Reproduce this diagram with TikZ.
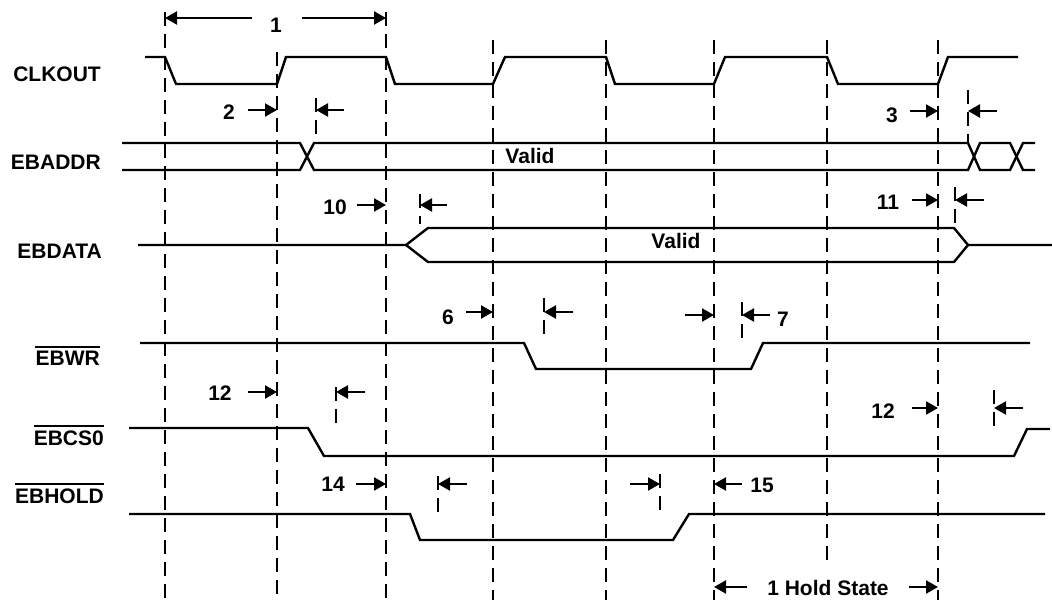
\documentclass[tikz,border=0pt]{standalone}
\usepackage{fontspec}
\setmainfont{Liberation Sans}
\usetikzlibrary{arrows.meta}
\begin{document}
\begin{tikzpicture}[x=1pt,y=-1pt,
  sig/.style={line width=2.4pt, line join=miter},
  grid/.style={line width=2pt, dash pattern=on 14pt off 8pt},
  tickline/.style={line width=2pt, dash pattern=on 14pt off 8pt},
  dim/.style={line width=2.2pt, -{Triangle[length=12pt,width=13pt]}},
  lbl/.style={font=\fontsize{21}{24}\selectfont\bfseries, inner sep=0pt},
  sname/.style={lbl, anchor=east},
]
\useasboundingbox (0,0) rectangle (1052,609);

% vertical reference lines
\foreach \x/\a/\b in {165/12/600, 277/52/600, 386/12/600, 493/40/600, 606/40/600, 714/40/600, 827/40/563, 938/40/600}
  \draw[grid] (\x,\a) -- (\x,\b);

% signal names
\node[sname] (nclk) at (101,74) {CLKOUT};
\node[sname] (naddr) at (101,162) {EBADDR};
\node[sname] (ndata) at (102,251) {EBDATA};
\node[sname] (nwr) at (100,358) {EBWR};
\node[sname] (ncs) at (104,438) {EBCS0};
\node[sname] (nhold) at (104,496) {EBHOLD};
\foreach \n in {nwr,ncs,nhold}
  \draw[line width=2pt] ([yshift=4pt]\n.north west) -- ([yshift=4pt]\n.north east);

% CLKOUT
\draw[sig] (145,57) -- (165,57) -- (176,84) -- (277,84) -- (286,57) -- (386,57) -- (395,84) -- (493,84) -- (505,57) -- (606,57) -- (615,84) -- (714,84) -- (725,57) -- (827,57) -- (838,84) -- (938,84) -- (948,57) -- (1018,57);

% EBADDR
\draw[sig] (122,143) -- (300,143) -- (314,170) -- (968,170) -- (980,143) -- (1010,143) -- (1023,170) -- (1035,170);
\draw[sig] (122,170) -- (300,170) -- (314,143) -- (968,143) -- (980,170) -- (1010,170) -- (1023,143) -- (1035,143);
\node[lbl] (vaddr) at (530,156) {Valid};

% EBDATA
\draw[sig] (138,245) -- (406,245) -- (428,228) -- (954,228) -- (968,245) -- (1052,245);
\draw[sig] (406,245) -- (428,262) -- (954,262) -- (968,245);
\node[lbl] (vdata) at (676,241) {Valid};

% EBWR
\draw[sig] (140,343) -- (524,343) -- (536,369) -- (751,369) -- (763,343) -- (1030,343);
% EBCS0
\draw[sig] (129,428) -- (308,428) -- (324,456) -- (1014,456) -- (1027,429) -- (1050,429);
% EBHOLD
\draw[sig] (129,514) -- (410,514) -- (420,540) -- (673,540) -- (689,514) -- (1045,514);

% 1
\node[lbl] (t1) at (276,25) {1};
\draw[dim] (252,18) -- (165,18);
\draw[dim] (302,18) -- (386,18);
% 2
\node[lbl] (t2) at (229,112) {2};
\draw[dim] (248,110) -- (277,110);
\draw[tickline] (316,98) -- (316,143);
\draw[dim] (344,110) -- (316,110);
% 3
\node[lbl] (t3) at (892,115) {3};
\draw[dim] (910,111) -- (938,111);
\draw[tickline] (968,90) -- (968,143);
\draw[dim] (997,111) -- (968,111);
% 10
\node[lbl] (t10) at (335,207) {10};
\draw[dim] (357,205) -- (386,205);
\draw[tickline] (420,194) -- (420,224);
\draw[dim] (447,205) -- (420,205);
% 11
\node[lbl] (t11) at (888,202) {11};
\draw[dim] (912,200) -- (938,200);
\draw[tickline] (955,187) -- (955,228);
\draw[dim] (984,200) -- (955,200);
% 6
\node[lbl] (t6) at (448,317) {6};
\draw[dim] (466,312) -- (493,312);
\draw[tickline] (544,298) -- (544,340);
\draw[dim] (573,312) -- (544,312);
% 7
\draw[dim] (685,315) -- (714,315);
\draw[tickline] (742,302) -- (742,344);
\draw[dim] (770,315) -- (742,315);
\node[lbl] (t7) at (783,319) {7};
% 12 (left)
\node[lbl] (t12a) at (220,393) {12};
\draw[dim] (248,392) -- (277,392);
\draw[tickline] (336,387) -- (336,429);
\draw[dim] (365,392) -- (336,392);
% 12 (right)
\node[lbl] (t12b) at (883,411) {12};
\draw[dim] (912,408) -- (938,408);
\draw[tickline] (994,390) -- (994,432);
\draw[dim] (1023,408) -- (994,408);
% 14
\node[lbl] (t14) at (333,484) {14};
\draw[dim] (356,484) -- (386,484);
\draw[tickline] (438,476) -- (438,518);
\draw[dim] (467,484) -- (438,484);
% 15
\draw[dim] (630,484) -- (660,484);
\draw[tickline] (660,474) -- (660,516);
\draw[dim] (742,484) -- (714,484);
\node[lbl] (t15) at (762,485) {15};
% 1 Hold State
\draw[dim] (747,587) -- (714,587);
\draw[dim] (909,587) -- (938,587);
\node[lbl] (thold) at (828,588) {1 Hold State};
\end{tikzpicture}
\end{document}
